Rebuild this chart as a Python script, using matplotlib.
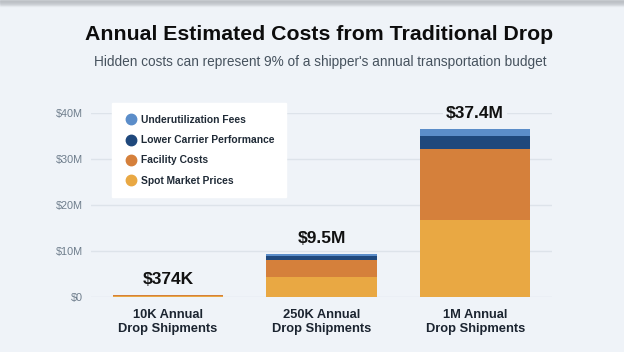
import matplotlib
matplotlib.use("Agg")
import matplotlib.pyplot as plt
from matplotlib.lines import Line2D
from matplotlib.patches import Rectangle
import numpy as np

# data (millions of dollars)
categories = ["10K Annual\nDrop Shipments", "250K Annual\nDrop Shipments", "1M Annual\nDrop Shipments"]
totals = ["$374K", "$9.5M", "$37.4M"]
spot_market = [0.17, 4.2, 16.6]
facility = [0.15, 3.9, 15.5]
carrier = [0.035, 0.8, 3.0]
underutil = [0.02, 0.35, 1.45]
series_names = ["Underutilization Fees", "Lower Carrier Performance", "Facility Costs", "Spot Market Prices"]
yticks = [0, 10, 20, 30, 40]
ytick_labels = ["$0", "$10M", "$20M", "$30M", "$40M"]

bg = "#eff3f8"
c_under = "#5b8dc9"
c_carrier = "#1f487c"
c_facility = "#d5803b"
c_spot = "#e9a843"

fig = plt.figure(figsize=(6.24, 3.52), dpi=100, facecolor=bg)
ax = fig.add_axes([91/624, 1 - 296.7/352, (552 - 91)/624, (296.7 - 113)/352])
ax.set_facecolor(bg)

# top shadow
for k in range(6):
    fig.patches.append(Rectangle((0, 1 - (k + 1)/352), 1, 1/352, transform=fig.transFigure,
                                 color="#b8bcc2", alpha=0.6*(1 - k/6), zorder=0))

x = np.arange(len(categories))
w = 0.717
b = np.zeros(3)
for vals, col in [(spot_market, c_spot), (facility, c_facility), (carrier, c_carrier), (underutil, c_under)]:
    ax.bar(x, vals, w, bottom=b, color=col, zorder=3)
    b = b + np.array(vals)

ax.set_xlim(-0.5, 2.5)
ax.set_ylim(0, 40)
ax.set_yticks(yticks)
ax.set_yticklabels(ytick_labels, family="Liberation Sans", fontsize=7.8, color="#6e7d8c")
ax.tick_params(axis="y", length=0, pad=5.8)
ax.grid(axis="y", color="#dde3ea", lw=1, zorder=0)
ax.set_xticks(x)
ax.set_xticklabels(categories, family="Liberation Sans", weight="bold", fontsize=9.3, color="#1b2430",
                   linespacing=1.2)
ax.tick_params(axis="x", length=0, pad=9)
for s in ax.spines.values():
    s.set_visible(False)

for xi, tot, t in zip(x, totals, b):
    ax.text(xi, t + 1.7, tot, ha="center", va="bottom", family="Liberation Sans", weight="bold",
            fontsize=12.5, color="#111111", zorder=5,
            bbox=dict(facecolor=bg, edgecolor="none", pad=2))

fig.text(319/624, 1 - 35/352, "Annual Estimated Costs from Traditional Drop", ha="center", va="center",
         family="Liberation Sans", weight="bold", fontsize=15.3, color="#0d0d0d")
fig.text(320/624, 1 - 62/352, "Hidden costs can represent 9% of a shipper's annual transportation budget",
         ha="center", va="center", family="Liberation Sans", fontsize=9.8, color="#46525e")

handles = [Line2D([], [], marker="o", ls="none", markersize=7.5, color=c) for c in [c_under, c_carrier, c_facility, c_spot]]
leg = ax.legend(handles, series_names, loc="upper left", bbox_to_anchor=(112/624, 1 - 103/352),
                bbox_transform=fig.transFigure, borderaxespad=0, frameon=True, fancybox=False,
                framealpha=1, edgecolor="white", facecolor="white", borderpad=1.15, labelspacing=1.0,
                handletextpad=0.35, handlelength=1.3,
                prop=dict(family="Liberation Sans", weight="bold", size=7.4))
for txt in leg.get_texts():
    txt.set_color("#1f2a36")
leg.set_zorder(6)

fig.savefig("out.png", dpi=100, facecolor=bg)
